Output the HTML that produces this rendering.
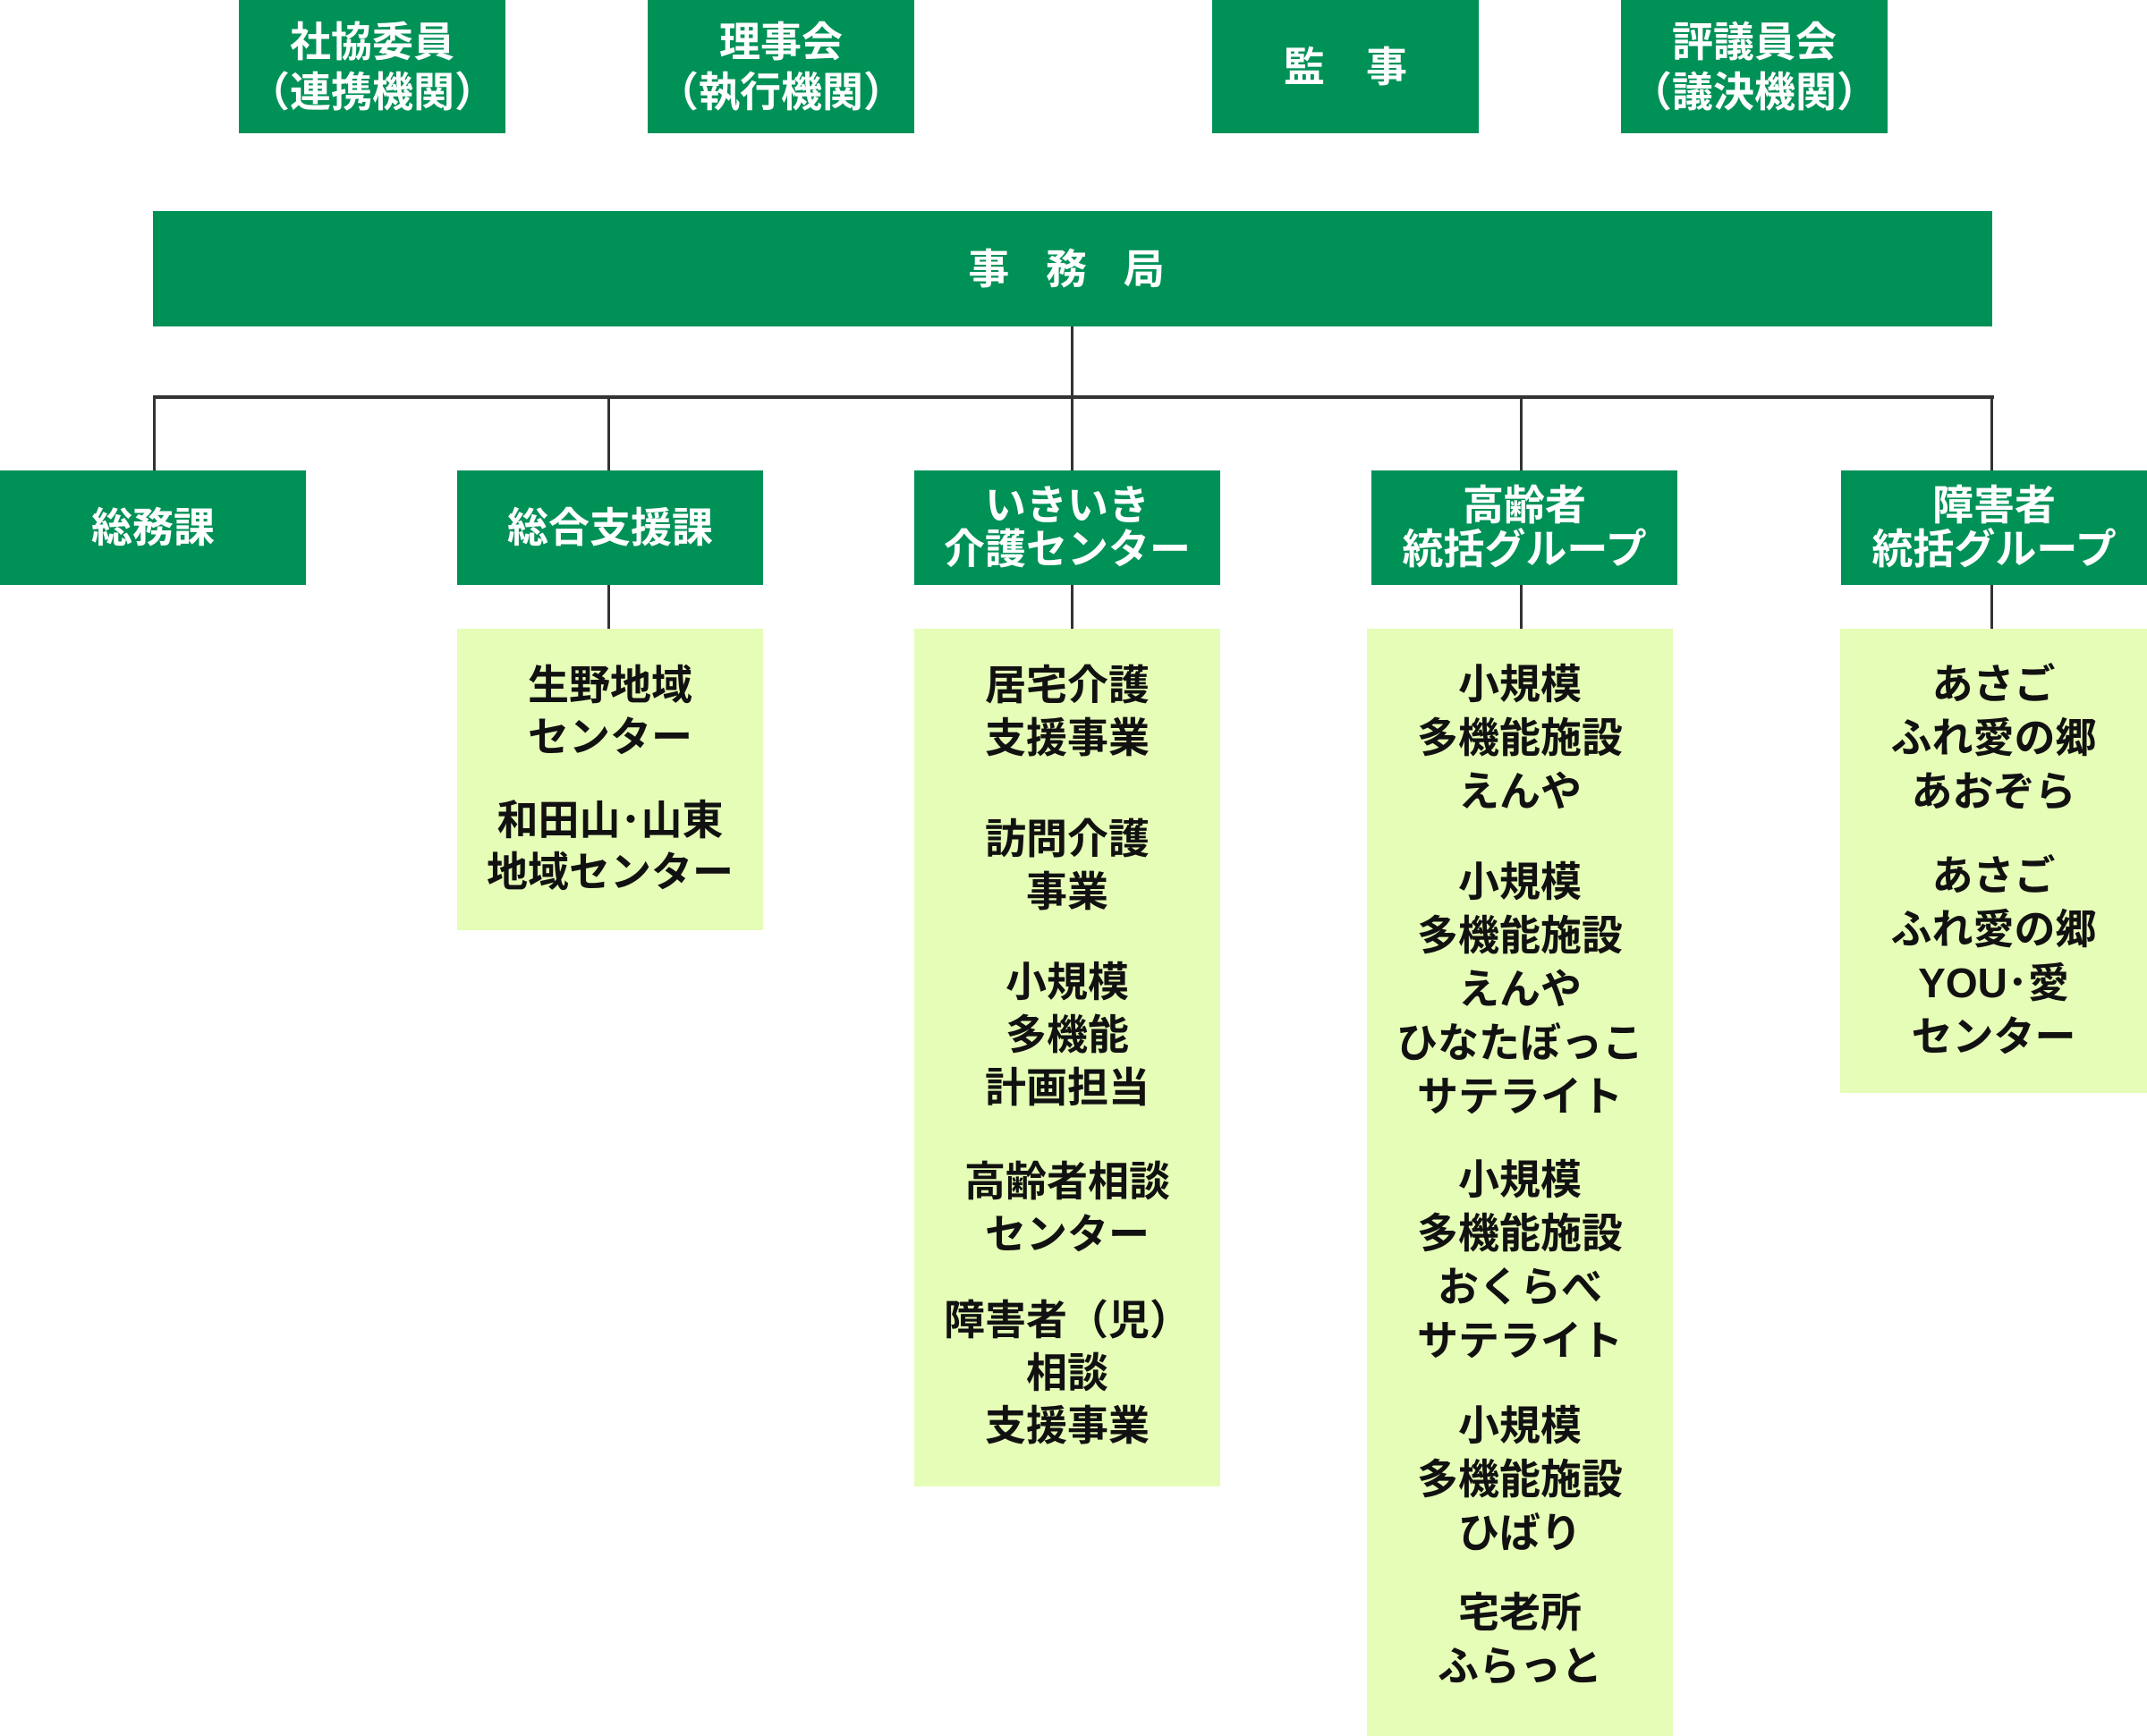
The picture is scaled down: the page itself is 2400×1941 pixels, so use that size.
<!DOCTYPE html>
<html><head><meta charset="utf-8"><style>
html,body{margin:0;padding:0;background:#fff;}
body{width:2400px;height:1941px;position:relative;overflow:hidden;font-family:"Liberation Sans","Noto Sans CJK JP",sans-serif;font-weight:bold;}
.g{position:absolute;background:#009157;color:#fff;display:flex;align-items:center;justify-content:center;text-align:center;font-size:46px;line-height:56px;}
.l{position:absolute;background:#e5fdb6;color:#111;text-align:center;font-size:46px;line-height:59px;}
.v{position:absolute;width:3px;background:#333;}
.h{position:absolute;height:4px;background:#333;}
</style></head><body>
<div class="g" style="left:267px;top:0;width:298px;height:149px;">社協委員<br>（連携機関）</div>
<div class="g" style="left:724px;top:0;width:298px;height:149px;">理事会<br>（執行機関）</div>
<div class="g" style="left:1355px;top:0;width:298px;height:149px;">監　事</div>
<div class="g" style="left:1812px;top:0;width:298px;height:149px;">評議員会<br>（議決機関）</div>
<div class="g" style="left:171px;top:236px;width:2056px;height:129px;letter-spacing:14px;">事 務 局</div>

<div class="v" style="left:1197px;top:365px;height:80px;"></div>
<div class="h" style="left:171px;top:442px;width:2058px;"></div>
<div class="v" style="left:171px;top:442px;height:84px;"></div>
<div class="v" style="left:679px;top:442px;height:84px;"></div>
<div class="v" style="left:1197px;top:442px;height:84px;"></div>
<div class="v" style="left:1699px;top:442px;height:84px;"></div>
<div class="v" style="left:2225px;top:442px;height:84px;"></div>
<div class="v" style="left:679px;top:654px;height:50px;"></div>
<div class="v" style="left:1197px;top:654px;height:50px;"></div>
<div class="v" style="left:1699px;top:654px;height:50px;"></div>
<div class="v" style="left:2225px;top:654px;height:50px;"></div>

<div class="g" style="left:0;top:526px;width:342px;height:128px;">総務課</div>
<div class="g" style="left:511px;top:526px;width:342px;height:128px;">総合支援課</div>
<div class="g" style="left:1022px;top:526px;width:342px;height:128px;line-height:49px;">いきいき<br>介護センター</div>
<div class="g" style="left:1533px;top:526px;width:342px;height:128px;line-height:49px;">高齢者<br>統括グループ</div>
<div class="g" style="left:2058px;top:526px;width:342px;height:128px;line-height:49px;">障害者<br>統括グループ</div>

<div class="l" style="left:511px;top:703px;width:342px;height:337px;">
<div style="position:absolute;left:0;right:0;top:34px;line-height:58px;">生野地域<br>センター</div>
<div style="position:absolute;left:0;right:0;top:185px;line-height:58px;">和田山･山東<br>地域センター</div>
</div>

<div class="l" style="left:1022px;top:703px;width:342px;height:959px;">
<div style="position:absolute;left:0;right:0;top:34px;">居宅介護<br>支援事業</div>
<div style="position:absolute;left:0;right:0;top:206px;">訪問介護<br>事業</div>
<div style="position:absolute;left:0;right:0;top:366px;">小規模<br>多機能<br>計画担当</div>
<div style="position:absolute;left:0;right:0;top:589px;">高齢者相談<br>センター</div>
<div style="position:absolute;left:0;right:0;top:744px;">障害者（児）<br>相談<br>支援事業</div>
</div>

<div class="l" style="left:1528px;top:703px;width:342px;height:1238px;line-height:60px;">
<div style="position:absolute;left:0;right:0;top:32px;">小規模<br>多機能施設<br>えんや</div>
<div style="position:absolute;left:0;right:0;top:253px;">小規模<br>多機能施設<br>えんや<br>ひなたぼっこ<br>サテライト</div>
<div style="position:absolute;left:0;right:0;top:586px;">小規模<br>多機能施設<br>おくらべ<br>サテライト</div>
<div style="position:absolute;left:0;right:0;top:861px;">小規模<br>多機能施設<br>ひばり</div>
<div style="position:absolute;left:0;right:0;top:1070px;">宅老所<br>ふらっと</div>
</div>

<div class="l" style="left:2057px;top:703px;width:343px;height:519px;line-height:60px;">
<div style="position:absolute;left:0;right:0;top:32px;">あさご<br>ふれ愛の郷<br>あおぞら</div>
<div style="position:absolute;left:0;right:0;top:246px;">あさご<br>ふれ愛の郷<br>YOU･愛<br>センター</div>
</div>
</body></html>
